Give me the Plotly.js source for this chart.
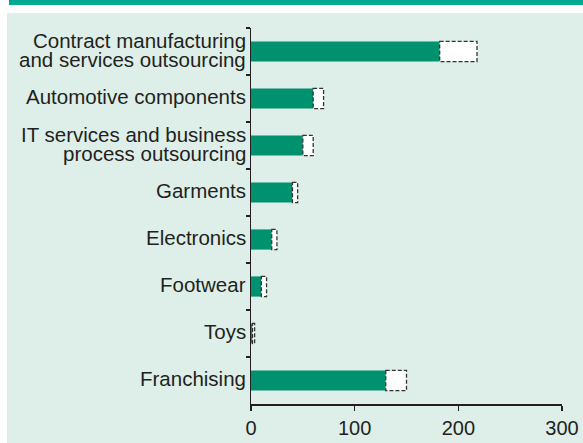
<!DOCTYPE html>
<html>
<head>
<meta charset="utf-8">
<script src="https://cdn.plot.ly/plotly-3.0.1.min.js"></script>
<style>html,body{margin:0;padding:0;background:#fff}#chart{width:583px;height:443px}</style>
</head>
<body>
<div id="chart"></div>
<script>
var categories = [
  "Contract manufacturing<br>and services outsourcing",
  "Automotive components",
  "IT services and business<br>process outsourcing",
  "Garments",
  "Electronics",
  "Footwear",
  "Toys",
  "Franchising"
];
var lowValues = [182, 60, 50, 40, 20, 10, 1.5, 130];
var highValues = [218, 70, 60, 45, 25, 15, 3.5, 150];
var xTicks = [0, 100, 200, 300];

var W = 583, H = 443, L = 251, R = 21, T = 28, B = 39;
var pw = W - L - R, ph = H - T - B;
function px(x) { return (x - L) / pw; }
function py(y) { return 1 - (y - T) / ph; }

var barHalf = 0.215;
var labelSize = 20.5;
var lineGap = 19;
var shapes = [];
shapes.push({type: 'rect', xref: 'paper', yref: 'paper', x0: px(-5), x1: px(W + 5), y0: py(13), y1: py(-5), fillcolor: '#ffffff', line: {width: 0}, layer: 'below'});
shapes.push({type: 'rect', xref: 'paper', yref: 'paper', x0: px(-5), x1: px(7), y0: py(H + 5), y1: py(-5), fillcolor: '#ffffff', line: {width: 0}, layer: 'below'});
shapes.push({type: 'rect', xref: 'paper', yref: 'paper', x0: px(9), x1: px(W + 5), y0: py(5), y1: py(-5), fillcolor: '#00A98F', line: {width: 0}, layer: 'below'});

for (var i = 0; i < categories.length; i++) {
  shapes.push({
    type: 'rect', xref: 'x', yref: 'y',
    x0: lowValues[i], x1: highValues[i],
    y0: i - barHalf, y1: i + barHalf,
    fillcolor: '#ffffff',
    line: {color: '#333333', width: 1.3, dash: '4px,2px'},
    layer: 'above'
  });
}

var annotations = [];
categories.forEach(function (c, i) {
  var lines = c.split('<br>');
  var n = lines.length;
  lines.forEach(function (ln, k) {
    annotations.push({
      xref: 'paper', yref: 'y', x: 0, y: i,
      xanchor: 'right', yanchor: 'middle',
      xshift: -3,
      yshift: ((n - 1) / 2 - k) * lineGap + 2,
      text: ln, showarrow: false,
      font: {size: labelSize, color: '#231F20'}
    });
  });
});

var trace = {
  type: 'bar',
  orientation: 'h',
  y: categories,
  x: lowValues,
  width: barHalf * 2,
  marker: {color: '#00926F', line: {width: 0}},
  hoverinfo: 'x+y'
};

var layout = {
  width: W, height: H,
  margin: {l: L, r: R, t: T, b: B, pad: 0},
  paper_bgcolor: '#DEEFE9',
  plot_bgcolor: '#DEEFE9',
  showlegend: false,
  font: {family: 'Liberation Sans, Arial, sans-serif', size: 19.5, color: '#231F20'},
  xaxis: {
    range: [0, 300],
    tickvals: xTicks,
    ticktext: xTicks.map(String),
    ticks: 'outside', ticklen: 5, tickwidth: 1.5, tickcolor: '#231F20',
    showline: true, linecolor: '#231F20', linewidth: 1.5,
    showgrid: false, zeroline: false,
    tickfont: {size: 20}
  },
  yaxis: {
    type: 'category',
    autorange: 'reversed',
    tickson: 'boundaries',
    ticks: 'outside', ticklen: 4, tickwidth: 1.5, tickcolor: '#231F20',
    showline: true, linecolor: '#231F20', linewidth: 1.5,
    showgrid: false, zeroline: false,
    showticklabels: false
  },
  annotations: annotations,
  shapes: shapes
};

Plotly.newPlot('chart', [trace], layout, {staticPlot: true, displayModeBar: false});
</script>
</body>
</html>
